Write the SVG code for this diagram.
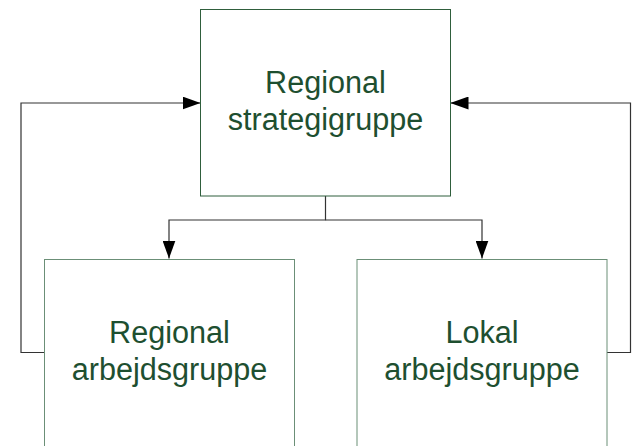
<svg xmlns="http://www.w3.org/2000/svg" width="635" height="446" viewBox="0 0 635 446">
  <defs>
    <marker id="arr" markerWidth="18" markerHeight="13" refX="18" refY="6.5" orient="auto" markerUnits="userSpaceOnUse">
      <path d="M0,0 L18,6.5 L0,13 Z" fill="#000"/>
    </marker>
    <style>
      .box { fill: #fff; stroke-width: 1; }
      .top { stroke: #2f5e3c; }
      .bot { stroke: #6b8f77; }
      .lbl { font-family: "Liberation Sans", Arial, sans-serif; font-size: 30.6px; fill: #1e4f30; text-anchor: middle; }
      .con { fill: none; stroke: #333; stroke-width: 1.2; }
    </style>
  </defs>
  <rect width="635" height="446" fill="#fff"/>
  <g id="connectors">
    <path class="con" d="M325.5,196 V220 H169 V258.5" marker-end="url(#arr)"/>
    <path class="con" d="M325.5,220 H482 V258.5" marker-end="url(#arr)"/>
    <path class="con" d="M44,352.5 H21 V103 H200.5" marker-end="url(#arr)"/>
    <path class="con" d="M607,352.5 H630.5 V103 H450.5" marker-end="url(#arr)"/>
  </g>
  <g id="regional-strategigruppe">
    <rect class="box top" x="200.5" y="9.5" width="250" height="186.5"/>
    <text class="lbl" x="325.5" y="93">Regional</text>
    <text class="lbl" x="325.5" y="130">strategigruppe</text>
  </g>
  <g id="regional-arbejdsgruppe">
    <rect class="box bot" x="44.5" y="259.5" width="250" height="200"/>
    <text class="lbl" x="169.5" y="343">Regional</text>
    <text class="lbl" x="169.5" y="380">arbejdsgruppe</text>
  </g>
  <g id="lokal-arbejdsgruppe">
    <rect class="box bot" x="357" y="259.5" width="250" height="200"/>
    <text class="lbl" x="482" y="343">Lokal</text>
    <text class="lbl" x="482" y="380">arbejdsgruppe</text>
  </g>
</svg>
